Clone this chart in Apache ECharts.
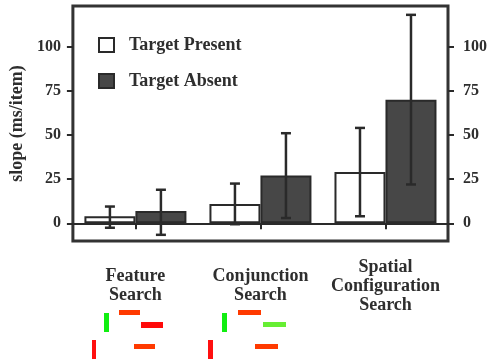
<!DOCTYPE html>
<html>
<head>
<meta charset="utf-8">
<script src="https://cdn.jsdelivr.net/npm/echarts@6/dist/echarts.min.js"></script>
<style>
html,body{margin:0;padding:0;background:#fff;}
#c{width:490px;height:362px;}
</style>
</head>
<body>
<div id="c"></div>
<script>
const categories = ['Feature\nSearch', 'Conjunction\nSearch', 'Spatial\nConfiguration\nSearch'];
const presentValues = [4, 11, 29];
const presentLow = [-2.5, -0.5, 4];
const presentHigh = [9.5, 22.5, 54];
const absentValues = [7, 27, 70];
const absentLow = [-6.5, 3, 22];
const absentHigh = [19, 51, 118];
const yTicks = [0, 25, 50, 75, 100];
const legendNames = ['Target Present', 'Target Absent'];

const FONT = "'Liberation Serif', 'DejaVu Serif', serif";
const TXT = '#2e2e2e';
const LINE = '#2a2a2a';
const BAR_W = 51;

function errSeries(low, high, dir) {
  return {
    type: 'custom',
    silent: true,
    z: 5,
    data: low.map((l, i) => [i, l, high[i]]),
    renderItem: function (params, api) {
      const off = dir * BAR_W / 2;
      const top = api.coord([api.value(0), api.value(2)]);
      const bot = api.coord([api.value(0), api.value(1)]);
      const x = top[0] + off;
      const style = { stroke: LINE, lineWidth: 2.5 };
      return {
        type: 'group',
        children: [
          { type: 'line', shape: { x1: x, y1: top[1], x2: x, y2: bot[1] }, style: style },
          { type: 'line', shape: { x1: x - 5, y1: top[1], x2: x + 5, y2: top[1] }, style: style },
          { type: 'line', shape: { x1: x - 5, y1: bot[1], x2: x + 5, y2: bot[1] }, style: style }
        ]
      };
    }
  };
}

function yAxisCfg(pos, margin) {
  return {
    type: 'value', min: -10, max: 123, position: pos,
    axisLine: { show: false },
    splitLine: { show: false },
    axisTick: { show: true, length: 6, customValues: yTicks, lineStyle: { color: LINE, width: 2 } },
    axisLabel: { customValues: yTicks, margin: margin, color: TXT, fontFamily: FONT, fontWeight: 'bold', fontSize: 16 }
  };
}

const stim = [
  [104, 313, 5, 19, '#11ee11'], [119, 310, 21, 5, '#ff3a00'], [141, 322, 22, 6, '#ff0a0a'],
  [92, 340, 4, 19, '#ff1010'], [134, 344, 21, 5, '#ff3a00'],
  [222, 313, 5, 19, '#11ee11'], [238, 310, 23, 5, '#ff3a00'], [263, 322, 23, 5, '#66ee33'],
  [208, 340, 5, 19, '#ff1010'], [255, 344, 23, 5, '#ff3a00']
];

const chart = echarts.init(document.getElementById('c'), null, { renderer: 'canvas' });
chart.setOption({
  animation: false,
  backgroundColor: '#fff',
  grid: { left: 70, right: 42, top: 6, bottom: 121, show: true, borderColor: '#333', borderWidth: 3, backgroundColor: 'transparent' },
  legend: {
    data: legendNames, orient: 'vertical', left: 93, top: 31, itemWidth: 15, itemHeight: 14, itemGap: 18,
    icon: 'rect', selectedMode: false,
    textStyle: { color: TXT, fontFamily: FONT, fontWeight: 'bold', fontSize: 18, padding: [0, 0, 0, 10] }
  },
  xAxis: {
    type: 'category', data: categories, position: 'bottom',
    axisLine: { show: false },
    axisTick: { show: true, alignWithLabel: true, length: 6, lineStyle: { color: LINE, width: 2 } },
    axisLabel: { margin: 45, color: TXT, fontFamily: FONT, fontWeight: 'bold', fontSize: 18, lineHeight: 19, verticalAlign: 'middle', interval: 0 }
  },
  yAxis: [
    Object.assign(yAxisCfg('left', 12), {
      name: 'slope (ms/item)', nameLocation: 'middle', nameGap: 43, nameRotate: 90,
      nameTextStyle: { color: TXT, fontFamily: FONT, fontWeight: 'bold', fontSize: 18 }
    }),
    yAxisCfg('right', 15)
  ],
  series: [
    {
      name: legendNames[0], type: 'bar', data: presentValues, barWidth: BAR_W, barGap: '0%',
      itemStyle: { color: '#ffffff', borderColor: LINE, borderWidth: 2 },
      markLine: { silent: true, symbol: 'none', label: { show: false }, data: [{ yAxis: 0 }], lineStyle: { color: LINE, width: 2, type: 'solid' } }
    },
    {
      name: legendNames[1], type: 'bar', data: absentValues, barWidth: BAR_W,
      itemStyle: { color: '#474747', borderColor: LINE, borderWidth: 2 }
    },
    errSeries(presentLow, presentHigh, -1),
    errSeries(absentLow, absentHigh, 1)
  ],
  graphic: stim.map(s => ({ type: 'rect', shape: { x: s[0], y: s[1], width: s[2], height: s[3] }, style: { fill: s[4] }, silent: true }))
});
</script>
</body>
</html>
